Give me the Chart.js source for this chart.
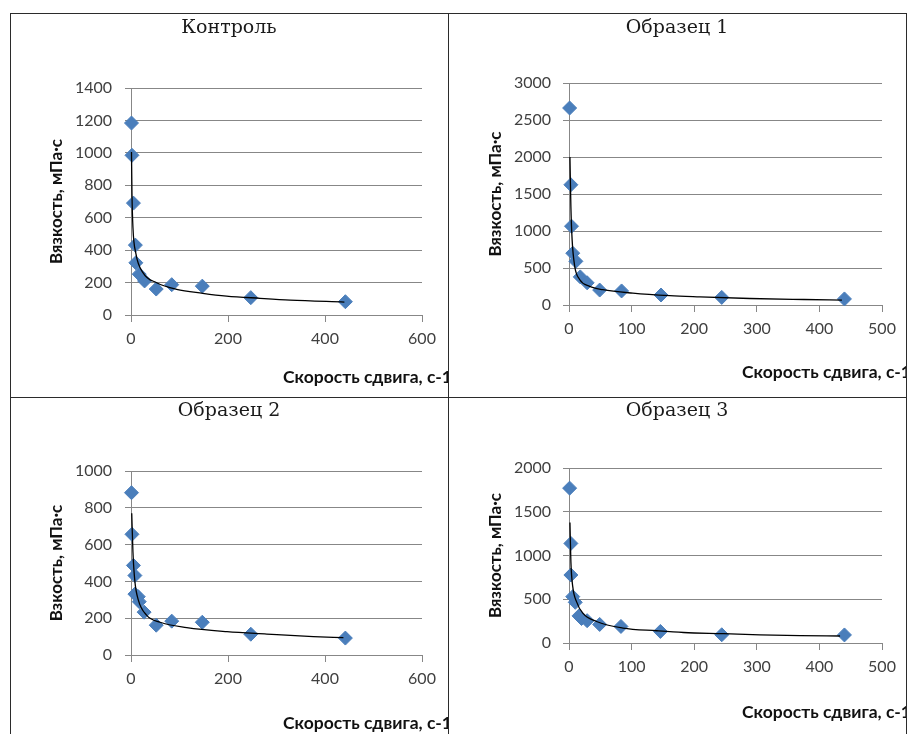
<!DOCTYPE html>
<html lang="ru">
<head>
<meta charset="utf-8">
<title>Вязкость</title>
<script src="https://cdn.jsdelivr.net/npm/chart.js@4.4.1/dist/chart.umd.min.js"></script>
<style>
  body { margin: 0; background: #fff; }
  .cell { position: absolute; overflow: hidden; }
  .line { position: absolute; background: #2b2b2b; }
</style>
</head>
<body>

<div class="cell" style="left:10px;top:13px;width:438px;height:384px"><canvas id="chartControl" width="438" height="384"></canvas></div>
<div class="cell" style="left:448px;top:13px;width:458px;height:384px"><canvas id="chartSample1" width="458" height="384"></canvas></div>
<div class="cell" style="left:10px;top:397px;width:438px;height:337px"><canvas id="chartSample2" width="438" height="337"></canvas></div>
<div class="cell" style="left:448px;top:397px;width:458px;height:337px"><canvas id="chartSample3" width="458" height="337"></canvas></div>

<!-- table borders -->
<div class="line" style="left:10px;top:13px;width:897px;height:1px"></div>
<div class="line" style="left:10px;top:397px;width:897px;height:1px"></div>
<div class="line" style="left:10px;top:13px;width:1px;height:721px"></div>
<div class="line" style="left:448px;top:13px;width:1px;height:721px"></div>
<div class="line" style="left:906px;top:13px;width:1px;height:721px"></div>

<script>
// --- data ---
const panelTitles = ['Контроль', 'Образец 1', 'Образец 2', 'Образец 3'];
const yTitles = ['Вязкость, мПа·с', 'Вязкость, мПа·с', 'Взкость, мПа·с', 'Вязкость, мПа·с'];
const xTitle = 'Скорость сдвига, с-1';

// axis ranges: [max, step]
const xAxes = [[600, 200], [500, 100], [600, 200], [500, 100]];
const yAxes = [[1400, 200], [3000, 500], [1000, 200], [2000, 500]];

// Контроль
const ctrlX = [1, 2, 5, 9, 10, 17, 28, 52, 84, 147, 247, 442];
const ctrlY = [1184, 985, 690, 431, 322, 252, 210, 160, 187, 178, 107, 82];
const ctrlTrendX = [1, 2, 4, 10, 25, 53, 94, 148, 197, 266, 328, 440];
const ctrlTrendY = [1005, 750, 540, 380, 260, 199, 158, 134, 117, 103, 92, 80];

// Образец 1
const s1X = [1, 3, 4, 6, 11, 18, 29, 49, 84, 147, 244, 440];
const s1Y = [2662, 1625, 1065, 700, 590, 380, 300, 202, 190, 135, 103, 82];
const s1TrendX = [1.5, 3, 5, 9, 17, 33, 54, 102, 161, 209, 289, 375, 436];
const s1TrendY = [2000, 1330, 880, 530, 345, 252, 207, 160, 126, 110, 88, 74, 66];

// Образец 2
const s2X = [1, 2, 5, 8, 8, 15, 17, 27, 52, 84, 147, 247, 442];
const s2Y = [882, 656, 487, 432, 331, 317, 290, 233, 162, 184, 178, 113, 92];
const s2TrendX = [1.5, 4, 8, 15, 32, 60, 115, 198, 280, 376, 438];
const s2TrendY = [770, 560, 400, 300, 217, 178, 149, 127, 114, 100, 94];

// Образец 3
const s3X = [1, 3, 3, 6, 10, 16, 20, 29, 49, 83, 146, 244, 440];
const s3Y = [1770, 1138, 777, 530, 465, 310, 280, 255, 212, 189, 132, 94, 92];
const s3TrendX = [1.5, 3, 6, 12, 22, 44, 86, 140, 183, 247, 305, 369, 433];
const s3TrendY = [1376, 930, 644, 473, 341, 246, 171, 140, 120, 106, 92, 84, 80];

const seriesX = [ctrlX, s1X, s2X, s3X];
const seriesY = [ctrlY, s1Y, s2Y, s3Y];
const trendX = [ctrlTrendX, s1TrendX, s2TrendX, s3TrendX];
const trendY = [ctrlTrendY, s1TrendY, s2TrendY, s3TrendY];

// x-axis title sits at the bottom right and runs past the cell edge
const xTitlePlugin = {
    id: 'xTitle',
    afterDraw: function(chart, args, opts) {
        const ctx = chart.ctx;
        ctx.save();
        ctx.font = 'bold 17.5px Lato';
        ctx.fillStyle = '#111';
        ctx.textBaseline = 'middle';
        ctx.textAlign = 'left';
        ctx.fillText(opts.text, opts.x, opts.y);
        ctx.restore();
    }
};

function toPoints(xs, ys) {
    return xs.map(function(x, i) { return { x: x, y: ys[i] }; });
}

function plainNumber(value) {
    return String(value);
}

function makePanel(canvasId, i, box) {
    const canvas = document.getElementById(canvasId);
    const w = canvas.width, h = canvas.height;
    const side = w - box.right;   // same padding both sides keeps the title centred on the cell
    const gridColor = '#878787';

    new Chart(canvas.getContext('2d'), {
        type: 'scatter',
        data: {
            datasets: [{
                data: toPoints(trendX[i], trendY[i]),
                showLine: true,
                borderColor: '#000',
                borderWidth: 1.3,
                pointRadius: 0,
                cubicInterpolationMode: 'monotone',
                clip: false
            }, {
                data: toPoints(seriesX[i], seriesY[i]),
                pointStyle: 'rectRot',
                pointRadius: 7,
                backgroundColor: '#4a7ebb',
                borderColor: '#4a7ebb',
                borderWidth: 1,
                clip: false
            }]
        },
        options: {
            responsive: false,
            animation: false,
            layout: { padding: { left: side, top: 0, right: side, bottom: h - box.bottom - 30 } },
            plugins: {
                legend: { display: false },
                tooltip: { enabled: false },
                title: {
                    display: true,
                    text: panelTitles[i],
                    color: '#1a1a1a',
                    font: { family: 'DejaVu Serif', size: 19, weight: 'normal', lineHeight: 1.2 },
                    padding: { top: box.titleY - 11.4, bottom: box.top - box.titleY - 11.4 }
                },
                xTitle: { text: xTitle, x: box.xTitleX, y: box.xTitleY }
            },
            scales: {
                x: {
                    type: 'linear',
                    min: 0,
                    max: xAxes[i][0],
                    afterFit: function(scale) { scale.height = 30; },
                    grid: { drawOnChartArea: false, drawTicks: true, tickLength: 7, color: gridColor },
                    border: { display: true, color: gridColor },
                    ticks: {
                        stepSize: xAxes[i][1],
                        padding: 7,
                        color: '#404040',
                        font: { family: 'Lato', size: 16 },
                        maxRotation: 0,
                        callback: plainNumber
                    }
                },
                y: {
                    type: 'linear',
                    min: 0,
                    max: yAxes[i][0],
                    afterFit: function(scale) { scale.width = box.left - side; },
                    grid: { color: gridColor, tickLength: 6 },
                    border: { display: true, color: gridColor },
                    ticks: {
                        stepSize: yAxes[i][1],
                        padding: box.tickPad,
                        color: '#404040',
                        font: { family: 'Lato', size: 16 },
                        callback: plainNumber
                    },
                    title: {
                        display: true,
                        text: yTitles[i],
                        color: '#111',
                        font: { family: 'Lato', size: 17, weight: 'bold', lineHeight: 1.2 },
                        padding: { top: box.yTitleX - side - 10.2, bottom: 0 }
                    }
                }
            }
        },
        plugins: [xTitlePlugin]
    });
}

document.addEventListener('DOMContentLoaded', function() {
    makePanel('chartControl', 0, { left: 121, right: 412, top: 75, bottom: 302, titleY: 15, yTitleX: 47, tickPad: 13, xTitleX: 273, xTitleY: 364 });
    makePanel('chartSample1', 1, { left: 121, right: 434, top: 70, bottom: 292, titleY: 15, yTitleX: 48, tickPad: 12, xTitleX: 294, xTitleY: 359 });
    makePanel('chartSample2', 2, { left: 121, right: 412, top: 74, bottom: 258, titleY: 14, yTitleX: 47, tickPad: 13, xTitleX: 273, xTitleY: 326 });
    makePanel('chartSample3', 3, { left: 121, right: 434, top: 71, bottom: 246, titleY: 14, yTitleX: 48, tickPad: 12, xTitleX: 294, xTitleY: 315 });
});
</script>
</body>
</html>
